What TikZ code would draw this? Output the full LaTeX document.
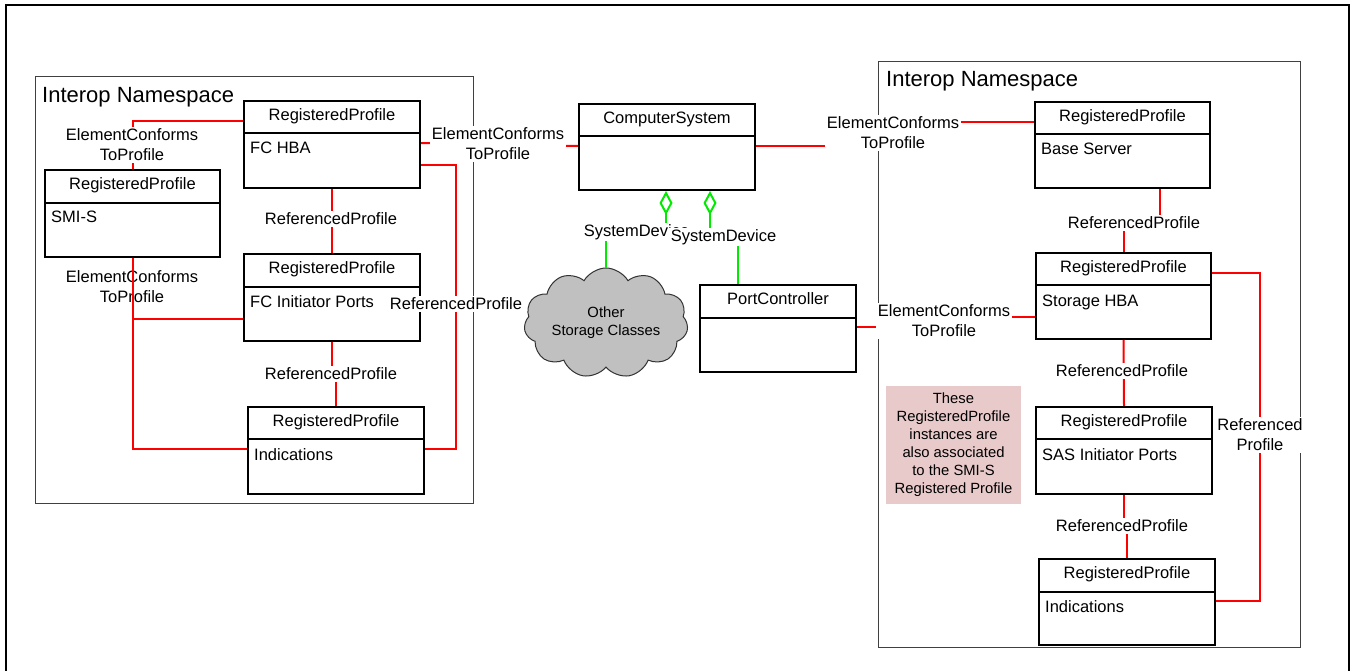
\documentclass[tikz,border=0pt]{standalone}
\usepackage{fontspec}
\setmainfont{Liberation Sans}
\usetikzlibrary{shapes.symbols,arrows.meta}
\definecolor{relred}{RGB}{255,0,0}
\definecolor{sdgreen}{RGB}{0,235,0}
\definecolor{notepink}{RGB}{233,202,202}
\definecolor{cloudgray}{RGB}{192,192,192}
\newcommand\fsA{\fontsize{16.5}{20}\selectfont}
\newcommand\fsB{\fontsize{22}{26}\selectfont}
\newcommand\fsC{\fontsize{14.8}{18}\selectfont}
\tikzset{
  cbox/.style={draw=black, line width=2pt, fill=white, inner sep=0pt},
  cline/.style={draw=black, line width=2pt},
  nsbox/.style={draw=black!75, line width=1.3pt, inner sep=0pt},
  rel/.style={draw=relred, line width=2pt},
  sd/.style={draw=sdgreen, line width=2pt},
  lbl/.style={fill=white, inner sep=1.5pt, align=center, font=\fsA},
  lblclear/.style={inner sep=1.5pt, align=center, font=\fsA},
}
\newcommand\umlbox[8]{%
  \node[cbox, minimum width=#4pt, minimum height=#5pt, anchor=north west] (#1) at (#2,#3) {};
  \draw[cline] ([yshift=-#6pt]#1.north west) -- ([yshift=-#6pt]#1.north east);
  \node[font=\fsA, inner sep=0pt, anchor=base] (#1-t) at ([yshift=-20.5pt]#1.north) {#7};
  \node[font=\fsA, inner sep=0pt, anchor=base west] (#1-b) at ([xshift=7pt,yshift=-54pt]#1.north west) {#8};
}
\begin{document}
\begin{tikzpicture}[x=1pt,y=-1pt]
\useasboundingbox (0,0) rectangle (1352,671);
\fill[white] (0,0) rectangle (1352,671);
% outer frame
\draw[black, line width=2.5pt] (6,680) -- (6,5) -- (1349,5) -- (1349,680);
% namespaces
\node[nsbox, minimum width=438pt, minimum height=427pt, anchor=north west] (nsL) at (35,76) {};
\node[font=\fsB, inner sep=0pt, anchor=west] (nsLt) at (42,97) {Interop Namespace};
\node[nsbox, minimum width=422pt, minimum height=586pt, anchor=north west] (nsR) at (878,61) {};
\node[font=\fsB, inner sep=0pt, anchor=west] (nsRt) at (886,81) {Interop Namespace};
% note
\node[fill=notepink, minimum width=135pt, minimum height=118pt, inner sep=0pt, align=center, font=\fsC] (note) at (953.5,445) {These\\RegisteredProfile\\instances are\\also associated\\to the SMI-S\\Registered Profile};
% cloud
\node[cloud, cloud puffs=11, cloud puff arc=120, cloud ignores aspect, minimum width=164pt, minimum height=110pt, fill=cloudgray, draw=black!80, line width=1pt, align=center, font=\fsC, inner sep=0pt] (cloud) at (606,323) {Other\\Storage Classes};
% label positions
\coordinate (pE1) at (132,145);
\coordinate (pE2) at (132,287);
\coordinate (pE3) at (498,144);
\coordinate (pE4) at (893,133);
\coordinate (pE5) at (944,321);
\coordinate (pR1) at (331,219);
\coordinate (pR2) at (331,374);
\coordinate (pR3) at (456,304);
\coordinate (pR4) at (1134,223);
\coordinate (pR5) at (1122,371);
\coordinate (pR6) at (1122,526);
\coordinate (pR7) at (1260,435);
\coordinate (pS1) at (636.5,232);
\coordinate (pS2) at (723.5,237);
% label drawn under the line
\node[lblclear] (E2) at (pE2) {ElementConforms\\ToProfile};
% boxes
\umlbox{fchba}{243}{100}{176}{87}{33}{RegisteredProfile}{FC HBA}
\umlbox{smis}{44}{169}{175}{87}{34}{RegisteredProfile}{SMI-S}
\umlbox{fcinit}{243}{253}{176}{87}{34}{RegisteredProfile}{FC Initiator Ports}
\umlbox{indL}{247}{406}{176}{87}{33}{RegisteredProfile}{Indications}
\umlbox{cs}{578}{103}{176}{86}{33}{ComputerSystem}{}
\umlbox{pc}{699}{284}{156}{87}{34}{PortController}{}
\umlbox{base}{1034}{101}{175}{86}{33}{RegisteredProfile}{Base Server}
\umlbox{shba}{1035}{252}{175}{86}{33}{RegisteredProfile}{Storage HBA}
\umlbox{sas}{1035}{406}{176}{87}{33}{RegisteredProfile}{SAS Initiator Ports}
\umlbox{indR}{1038}{558}{176}{86}{34}{RegisteredProfile}{Indications}
% red connectors, left
\draw[rel] (smis.north) |- ([yshift=-21pt]fchba.north west);
\draw[rel] (smis.south) |- ([yshift=-43pt]indL.north west);
\draw[rel] ([yshift=-66pt]fcinit.north west) -| (smis.south);
\draw[rel] (fchba.south) -- (fcinit.north);
\draw[rel] (fcinit.south) -- (fcinit.south |- pR2) -- (indL.north |- pR2) -- (indL.north);
\draw[rel] ([yshift=-65pt]fchba.north east) -| (pR3) |- ([yshift=-43pt]indL.north east);
\draw[rel] ([yshift=-43pt]fchba.north east) -- (pE3) -- (pE3 |- 0,146) -- ([yshift=-43pt]cs.north west);
% red connectors, right
\draw[rel] ([yshift=-43pt]cs.north east) -- (pE4 |- 0,146) -- (pE4 |- 0,122) -- ([yshift=-21pt]base.north west);
\draw[rel] ([xshift=126pt]base.south west) -- ([xshift=126pt]base.south west |- pR4) -- (shba.north |- pR4) -- (shba.north);
\draw[rel] (shba.south) -- (sas.north);
\draw[rel] (sas.south) -- (sas.south |- pR6) -- (indR.north |- pR6) -- (indR.north);
\draw[rel] ([yshift=-21pt]shba.north east) -| (pR7) |- ([yshift=-43pt]indR.north east);
\draw[rel] ([yshift=-43pt]pc.north east) -- (pE5 |- 0,327) -- (pE5 |- 0,317) -- ([yshift=-65pt]shba.north west);
% green SystemDevice connectors
\draw[sd, {Diamond[open, length=24pt, width=13pt]}-] ([xshift=88pt]cs.south west) -- ([xshift=88pt]cs.south west |- pS1) -- (cloud.north |- pS1) -- (cloud.north);
\draw[sd, {Diamond[open, length=24pt, width=13pt]}-] ([xshift=132pt]cs.south west) -- ([xshift=132pt]cs.south west |- pS2) -- ([xshift=39pt]pc.north west |- pS2) -- ([xshift=39pt]pc.north west);
% labels
\node[lbl] (E1) at (pE1) {ElementConforms\\ToProfile};
\node[lbl] (E3) at (pE3) {ElementConforms\\ToProfile};
\node[lbl] (E4) at (pE4) {ElementConforms\\ToProfile};
\node[lbl] (E5) at (pE5) {ElementConforms\\ToProfile};
\node[lbl] (R1) at (pR1) {ReferencedProfile};
\node[lbl] (R2) at (pR2) {ReferencedProfile};
\node[lbl] (R3) at (pR3) {ReferencedProfile};
\node[lbl] (R4) at (pR4) {ReferencedProfile};
\node[lbl] (R5) at (pR5) {ReferencedProfile};
\node[lbl] (R6) at (pR6) {ReferencedProfile};
\node[lbl] (R7) at (pR7) {Referenced\\Profile};
\node[lbl] (S1) at (pS1) {SystemDevice};
\node[lbl] (S2) at (pS2) {SystemDevice};
\end{tikzpicture}
\end{document}
